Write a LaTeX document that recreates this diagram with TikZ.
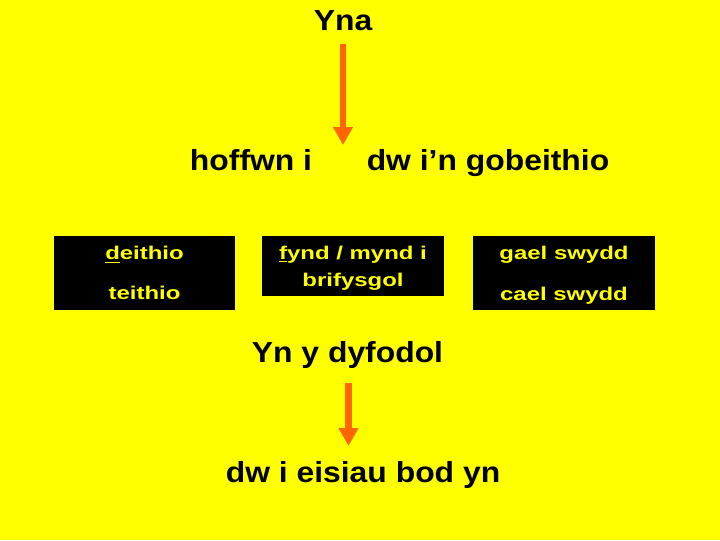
\documentclass[tikz,border=0pt]{standalone}
\usepackage{fontspec}
\setmainfont{Liberation Sans}[FakeStretch=1.1]
\newfontfamily\boxfont{Liberation Sans}[FakeStretch=1.3]
\usepackage{xcolor}
\usetikzlibrary{arrows.meta}
\definecolor{slideyellow}{RGB}{255,255,0}
\definecolor{arroworange}{RGB}{255,102,0}

\begin{document}
\begin{tikzpicture}[x=0.025cm,y=-0.025cm,
    bigtext/.style={inner sep=0pt, anchor=base, font=\fontsize{20.6}{24}\selectfont\bfseries},
    blackbox/.style={fill=black, text=slideyellow, inner sep=0pt, align=center,
        font=\boxfont\fontsize{13.1}{19.1}\selectfont\bfseries},
    downarrow/.style={arroworange, line width=4.6pt, -{Triangle[width=13.5pt,length=12.8pt]}}]
    \fill[slideyellow] (0,0) rectangle (720,540);
    % top part
    \node[bigtext] (yna) at (343,30) {Yna};
    \coordinate (tipa) at (343,145);
    \draw[downarrow, shorten <=9.2pt] (yna) -- (tipa);
    \node[bigtext] (hoffwn) at (251,170) {hoffwn i};
    \node[bigtext] (gobeithio) at (488,170) {dw i’n gobeithio};
    % the three boxes
    \node[blackbox, minimum width=4.525cm, minimum height=1.85cm] (teithio) at (144.5,273)
        {\underline{d}eithio\\[9.2pt]teithio};
    \node[blackbox, minimum width=4.55cm, minimum height=1.5cm] (prifysgol) at (353,266)
        {\rule{0pt}{12.4pt}\underline{f}ynd / mynd i\\brifysgol};
    \node[blackbox, minimum width=4.55cm, minimum height=1.85cm] (swydd) at (564,273)
        {\rule{0pt}{13pt}gael swydd\\[10pt]cael swydd};
    % bottom part
    \node[bigtext] (dyfodol) at (347.5,362) {Yn y dyfodol};
    \coordinate (taila) at (348.5,383);
    \coordinate (tipb) at (348.5,446);
    \draw[downarrow] (taila) -- (tipb);
    \node[bigtext] (eisiau) at (363,482) {dw i eisiau bod yn};
\end{tikzpicture}
\end{document}
